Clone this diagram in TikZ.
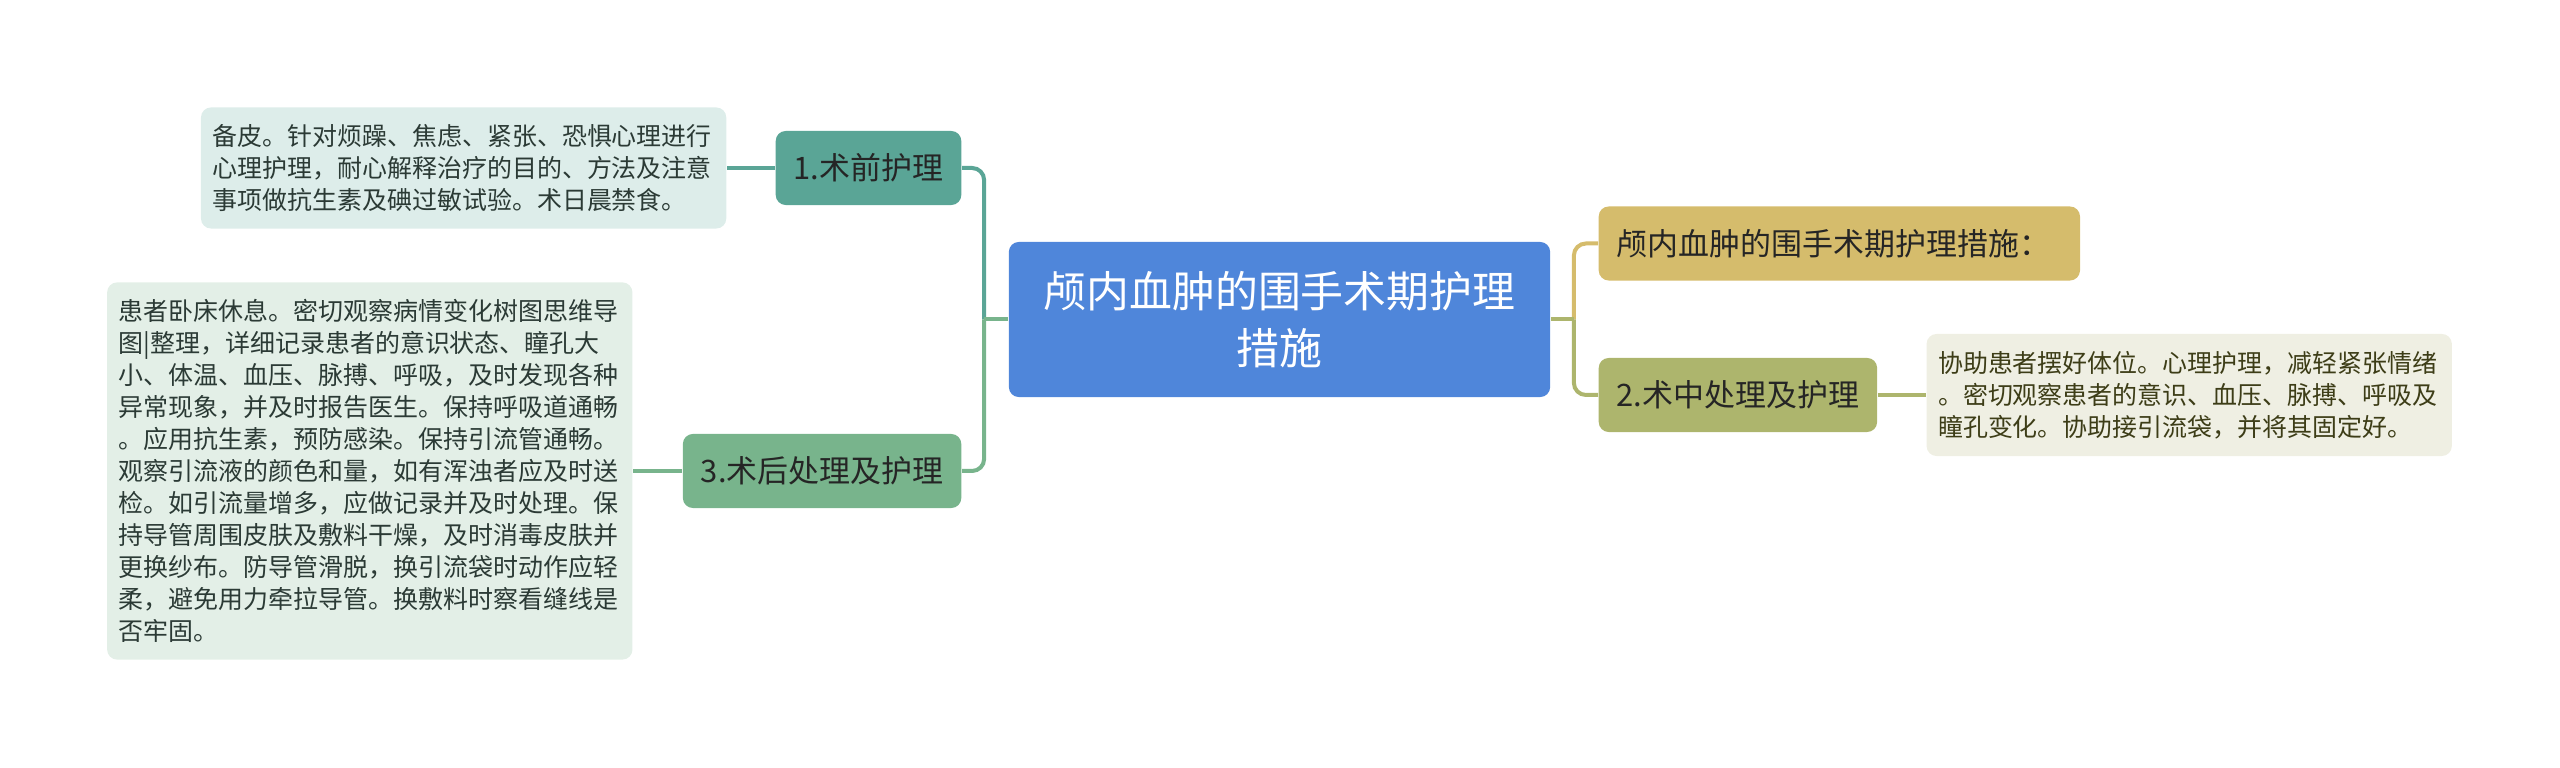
\documentclass[tikz,border=0pt]{standalone}
\usepackage{fontspec}
\setmainfont{Noto Sans CJK SC}
\usepackage{tikz}
\usetikzlibrary{positioning}
\usepackage{xcolor}

\definecolor{rootblue}{HTML}{4F86DA}
\definecolor{preteal}{HTML}{5AA596}
\definecolor{preleaf}{HTML}{DDEDEA}
\definecolor{postgreen}{HTML}{78B48C}
\definecolor{postleaf}{HTML}{E3EFE7}
\definecolor{titlegold}{HTML}{D5BC6C}
\definecolor{intraolive}{HTML}{ADB56D}
\definecolor{intraleaf}{HTML}{EFEFE3}
\definecolor{topictext}{HTML}{252525}
\definecolor{leaftext}{HTML}{2B3A35}
\definecolor{olivetext}{HTML}{3D3D17}

\begin{document}
\begin{tikzpicture}[x=0.01cm,y=-0.01cm,
      rootbox/.style={rounded corners=0.1cm,fill=rootblue,text=white,
                      minimum width=5.41cm,minimum height=1.55cm,
                      align=center,font=\fontsize{12.2pt}{16.2pt}\selectfont},
      topic/.style={rounded corners=0.1cm,minimum height=0.74cm,
                    inner xsep=0.18cm,text=topictext,
                    font=\fontsize{8.8pt}{10pt}\selectfont},
      leaf/.style={rounded corners=0.1cm,text width=5.02cm,
                   inner xsep=0.115cm,inner ysep=0.05cm,align=left,
                   font=\fontsize{7.1pt}{9.1pt}\selectfont},
      link/.style={line width=0.04cm,rounded corners=0.12cm},
    ]
    \useasboundingbox (0,0) rectangle (2560,768);

    % central topic
    \node[rootbox] (root) at (1279.5,319.5)
      {颅内血肿的围手术期护理\\措施};

    % left branches
    \node[topic,fill=preteal,anchor=east] (pre) at (962,168) {1.术前护理};
    \node[topic,fill=postgreen,anchor=east] (post) at (962,471)
      {3.术后处理及护理};

    \node[leaf,fill=preleaf,text=leaftext,minimum height=1.21cm,
          left=0.48cm of pre] (preleaf) {%
      备皮。针对烦躁、焦虑、紧张、恐惧心理进行\\
      心理护理，耐心解释治疗的目的、方法及注意\\
      事项做抗生素及碘过敏试验。术日晨禁食。};
    \node[leaf,fill=postleaf,text=leaftext,minimum height=3.77cm,
          left=0.49cm of post] (postleaf) {%
      患者卧床休息。密切观察病情变化树图思维导\\
      图|整理，详细记录患者的意识状态、瞳孔大\\
      小、体温、血压、脉搏、呼吸，及时发现各种\\
      异常现象，并及时报告医生。保持呼吸道通畅\\
      。应用抗生素，预防感染。保持引流管通畅。\\
      观察引流液的颜色和量，如有浑浊者应及时送\\
      检。如引流量增多，应做记录并及时处理。保\\
      持导管周围皮肤及敷料干燥，及时消毒皮肤并\\
      更换纱布。防导管滑脱，换引流袋时动作应轻\\
      柔，避免用力牵拉导管。换敷料时察看缝线是\\
      否牢固。};

    % right branches
    \node[topic,fill=titlegold,anchor=west,text width=4.45cm,align=left]
      (title) at (1598,243.5) {颅内血肿的围手术期护理措施：};
    \node[topic,fill=intraolive,anchor=west] (intra) at (1598,395)
      {2.术中处理及护理};

    \node[leaf,fill=intraleaf,text=olivetext,minimum height=1.22cm,
          right=0.48cm of intra] (intraleaf) {%
      协助患者摆好体位。心理护理，减轻紧张情绪\\
      。密切观察患者的意识、血压、脉搏、呼吸及\\
      瞳孔变化。协助接引流袋，并将其固定好。};

    % connectors
    \coordinate[left=0.24cm of root.west] (lhub);
    \coordinate[right=0.23cm of root.east] (rhub);

    \draw[link,draw=preteal]    (lhub) |- (pre.east);
    \draw[link,draw=postgreen]  (lhub) |- (post.east);
    \draw[link,draw=postgreen]  (root.west) -- (lhub);
    \draw[link,draw=preteal]    (pre.west) -- (preleaf.east);
    \draw[link,draw=postgreen]  (post.west) -- (postleaf.east);

    \draw[link,draw=titlegold]  (rhub) |- (title.west);
    \draw[link,draw=intraolive] (rhub) |- (intra.west);
    \draw[link,draw=intraolive] (root.east) -- (rhub);
    \draw[link,draw=intraolive] (intra.east) -- (intraleaf.west);

  \end{tikzpicture}
\end{document}
